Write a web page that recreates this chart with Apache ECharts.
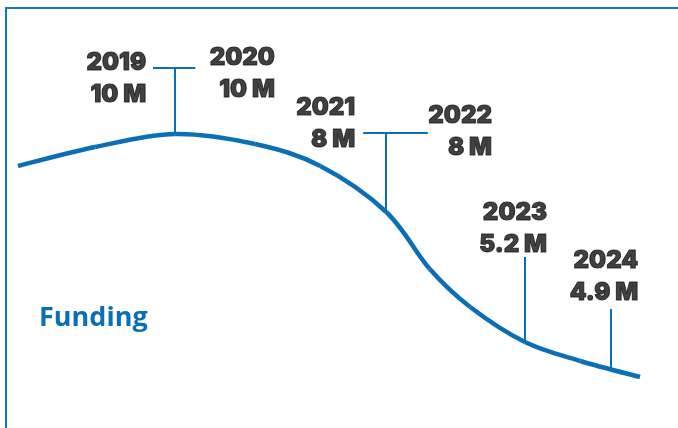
<!DOCTYPE html>
<html>
<head>
<meta charset="utf-8">
<script src="https://cdn.jsdelivr.net/npm/echarts@6/dist/echarts.min.js"></script>
<style>
  html, body { margin: 0; padding: 0; background: #fff; }
  #chart { width: 678px; height: 428px; }
</style>
</head>
<body>
<div id="chart"></div>
<script>
// ---- data ----
const years = ['2019', '2020', '2021', '2022', '2023', '2024'];
const funding = [10, 10, 8, 8, 5.2, 4.9];           // millions
const unit = 'M';
const seriesName = 'Funding';
// decorative trend curve (x: 0-100 position, y: level)
const curveX = [0, 12.4, 25.2, 38.1, 48.6, 59.2, 66.2, 72.7, 81.5, 90.4, 100];
const curveY = [26.2, 28.1, 29.4, 28.4, 26.2, 21.6, 15.9, 12.1, 8.6, 6.7, 5.1];

// ---- layout (callouts) ----
const labelAnchor = [[20.6, 34.95], [41.3, 35.4], [54.2, 30.45], [76.2, 29.65], [85.05, 19.95], [99.7, 15.15]];
const connectors = [
  [[25.2, 36.0], [25.2, 29.4]], [[21.7, 36.0], [28.5, 36.0]],
  [[59.2, 29.5], [59.2, 21.6]], [[55.5, 29.5], [65.9, 29.5]],
  [[81.5, 17.1], [81.5, 8.6]],
  [[95.3, 11.9], [95.3, 6.0]]
];

const BLUE = '#0b6fb8';
const curveData = curveX.map((x, i) => [x, curveY[i]]);

function renderSegment(params, api) {
  const i = params.dataIndex;
  const n = curveData.length;
  if (i >= n - 1) return null;
  const P = k => api.coord(curveData[Math.max(0, Math.min(n - 1, k))]);
  const p0 = P(i - 1), p1 = P(i), p2 = P(i + 1), p3 = P(i + 2);
  const c1 = [p1[0] + (p2[0] - p0[0]) / 6, p1[1] + (p2[1] - p0[1]) / 6];
  const c2 = [p2[0] - (p3[0] - p1[0]) / 6, p2[1] - (p3[1] - p1[1]) / 6];
  return {
    type: 'bezierCurve',
    shape: { x1: p1[0], y1: p1[1], x2: p2[0], y2: p2[1], cpx1: c1[0], cpy1: c1[1], cpx2: c2[0], cpy2: c2[1] },
    style: { stroke: BLUE, lineWidth: 4.5, fill: null, lineCap: 'butt' }
  };
}

const chart = echarts.init(document.getElementById('chart'));
chart.setOption({
  animation: false,
  backgroundColor: '#fff',
  title: {
    text: seriesName, left: 34, top: 300,
    textStyle: { color: BLUE, fontSize: 27, fontWeight: 700, fontFamily: 'Open Sans' }
  },
  grid: { left: 18, right: 38, top: 8, bottom: 0 },
  xAxis: { type: 'value', min: 0, max: 100, show: false },
  yAxis: { type: 'value', min: 0, max: 42, show: false },
  graphic: [
    { type: 'line', shape: { x1: 6, y1: 8, x2: 6, y2: 428 }, style: { stroke: '#1577c0', lineWidth: 2 } },
    { type: 'line', shape: { x1: 5, y1: 8, x2: 678, y2: 8 }, style: { stroke: '#1577c0', lineWidth: 2 } }
  ],
  series: [
    {
      type: 'custom', name: seriesName, renderItem: renderSegment,
      data: curveData, clip: false
    },
    {
      type: 'lines', coordinateSystem: 'cartesian2d', polyline: false,
      lineStyle: { color: BLUE, width: 2, opacity: 1 },
      data: connectors.map(c => ({ coords: c }))
    },
    {
      type: 'scatter', symbolSize: 0,
      data: labelAnchor.map((p, i) => ({ value: p, name: years[i], funding: funding[i] })),
      label: {
        show: true, position: 'left', distance: 0, align: 'right',
        formatter: p => years[p.dataIndex] + '\n' + funding[p.dataIndex] + ' ' + unit,
        color: '#111', fontSize: 24, fontWeight: 900, fontFamily: 'Inter', lineHeight: 32,
        textBorderColor: '#111', textBorderWidth: 1
      }
    }
  ]
});
</script>
</body>
</html>
